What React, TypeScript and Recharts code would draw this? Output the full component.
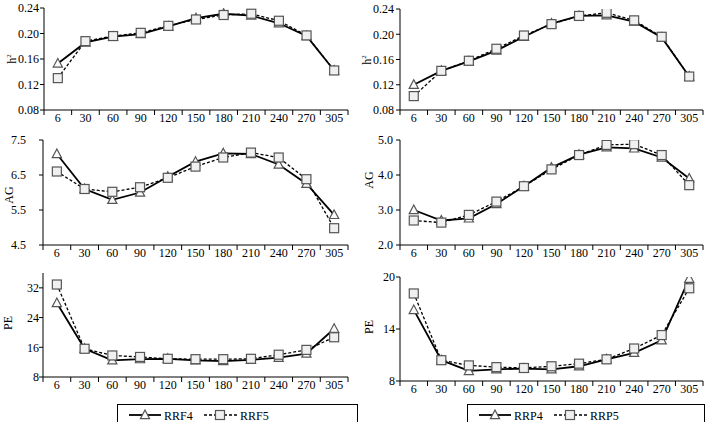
import React from "react";
import { LineChart, Line, XAxis, YAxis } from "recharts";

const FONT = '"Liberation Serif", "Times New Roman", serif';

// days in milk (categories)
const days = ["6", "30", "60", "90", "120", "150", "180", "210", "240", "270", "305"];

// heritability
const h2RRF4 = [0.153, 0.186, 0.195, 0.199, 0.211, 0.224, 0.231, 0.228, 0.216, 0.196, 0.142];
const h2RRF5 = [0.13, 0.188, 0.196, 0.201, 0.212, 0.222, 0.229, 0.231, 0.22, 0.197, 0.142];
const h2RRP4 = [0.12, 0.142, 0.157, 0.174, 0.196, 0.217, 0.229, 0.23, 0.22, 0.195, 0.133];
const h2RRP5 = [0.102, 0.142, 0.158, 0.177, 0.198, 0.216, 0.229, 0.234, 0.222, 0.196, 0.133];

// additive genetic variance
const agRRF4 = [7.1, 6.1, 5.79, 6.0, 6.45, 6.88, 7.12, 7.1, 6.8, 6.25, 5.36];
const agRRF5 = [6.6, 6.1, 6.02, 6.15, 6.42, 6.74, 7.0, 7.14, 7.0, 6.38, 4.98];
const agRRP4 = [3.0, 2.7, 2.76, 3.17, 3.68, 4.21, 4.58, 4.79, 4.76, 4.5, 3.9];
const agRRP5 = [2.7, 2.64, 2.86, 3.24, 3.68, 4.16, 4.57, 4.86, 4.88, 4.57, 3.71];

// permanent environment variance
const peRRF4 = [27.9, 15.6, 12.5, 12.8, 12.9, 12.5, 12.3, 12.6, 13.2, 14.3, 21.0];
const peRRF5 = [32.9, 15.6, 13.8, 13.4, 12.9, 12.8, 12.8, 12.9, 14.0, 15.3, 18.7];
const peRRP4 = [16.2, 10.4, 9.16, 9.35, 9.43, 9.35, 9.7, 10.5, 11.25, 12.7, 19.8];
const peRRP5 = [18.1, 10.4, 9.8, 9.6, 9.5, 9.7, 10.0, 10.5, 11.75, 13.3, 18.7];

const h2Ticks = [0.08, 0.12, 0.16, 0.2, 0.24];
const agFTicks = [4.5, 5.5, 6.5, 7.5];
const agPTicks = [2.0, 3.0, 4.0, 5.0];
const peFTicks = [8, 16, 24, 32];
const pePTicks = [8, 14, 20];

// integer = label position, half = boundary tick
const xTicks: number[] = [];
for (let k = -0.5; k <= days.length - 0.5; k += 0.5) xTicks.push(k);

const rows = (a: number[], b: number[]) => days.map((d, i) => ({ i, day: d, a: a[i], b: b[i] }));

const DayTick = (p: any) => {
  const v = p.payload.value;
  if (Number.isInteger(v)) {
    return (
      <text x={p.x} y={p.y + 3} dy="0.71em" textAnchor="middle" fontSize={12} fontFamily={FONT} fill="#000">
        {days[v]}
      </text>
    );
  }
  return <line x1={p.x} x2={p.x} y1={p.y} y2={p.y + 5} stroke="#000" />;
};

const TriDot = (p: any) => {
  const { cx, cy } = p;
  if (cx == null || cy == null) return null;
  return (
    <polygon
      points={`${cx},${cy - 5} ${cx - 4.6},${cy + 3.6} ${cx + 4.6},${cy + 3.6}`}
      fill="#fafafa"
      stroke="#555"
      strokeWidth={1.2}
    />
  );
};

const SqDot = (p: any) => {
  const { cx, cy } = p;
  if (cx == null || cy == null) return null;
  return <rect x={cx - 4.5} y={cy - 4.5} width={9} height={9} fill="#f0f0f0" stroke="#555" strokeWidth={1.2} />;
};

interface PanelProps {
  x: number;
  y: number;
  w: number;
  h: number;
  data: { i: number; a: number; b: number }[];
  domain: [number, number];
  ticks: number[];
  fmt: (v: number) => string;
  gap: number;
}

function Panel({ x, y, w, h, data, domain, ticks, fmt, gap }: PanelProps) {
  const yw = 40;
  const mt = 6;
  const mb = 20;
  const mr = 6;
  return (
    <div style={{ position: "absolute", left: x - yw, top: y - mt }}>
      <LineChart width={yw + w + mr} height={mt + h + mb} data={data} margin={{ top: mt, right: mr, bottom: 0, left: 0 }}>
        <XAxis
          dataKey="i"
          type="number"
          domain={[-0.5, days.length - 0.5]}
          ticks={xTicks}
          interval={0}
          tick={<DayTick />}
          tickLine={false}
          tickSize={0}
          tickMargin={0}
          height={mb}
          axisLine={{ stroke: "#000" }}
          allowDataOverflow
        />
        <YAxis
          width={yw}
          domain={domain}
          ticks={ticks}
          interval={0}
          tickFormatter={fmt}
          tickSize={4}
          tickMargin={gap}
          tickLine={{ stroke: "#000" }}
          axisLine={{ stroke: "#000" }}
          tick={{ fill: "#000", fontSize: 12, fontFamily: FONT }}
          allowDataOverflow
        />
        <Line dataKey="a" stroke="#000" strokeWidth={1.8} dot={<TriDot />} isAnimationActive={false} />
        <Line dataKey="b" stroke="#000" strokeWidth={1.3} strokeDasharray="3 2" dot={<SqDot />} isAnimationActive={false} />
      </LineChart>
    </div>
  );
}

function AxisTitle({ x, y, children }: { x: number; y: number; children: React.ReactNode }) {
  return (
    <div
      style={{
        position: "absolute",
        left: x - 20,
        top: y - 8,
        width: 40,
        height: 16,
        lineHeight: "16px",
        textAlign: "center",
        fontFamily: FONT,
        fontSize: 12,
        transform: "rotate(-90deg)",
      }}
    >
      {children}
    </div>
  );
}

function LegendBox({ left, width, names }: { left: number; width: number; names: string[] }) {
  return (
    <div
      style={{
        position: "absolute",
        left,
        top: 404,
        width,
        height: 24,
        border: "1.5px solid #000",
        boxSizing: "border-box",
        background: "#fff",
      }}
    >
      <svg width={width - 3} height={20} style={{ display: "block" }}>
        <line x1={11} x2={43} y1={10} y2={10} stroke="#000" strokeWidth={1.8} />
        <TriDot cx={27} cy={10} />
        <text x={46} y={14.5} fontSize={12} fontFamily={FONT} fill="#000">
          {names[0]}
        </text>
        <line x1={86} x2={120} y1={10} y2={10} stroke="#000" strokeWidth={1.3} strokeDasharray="3 2" />
        <SqDot cx={102} cy={10} />
        <text x={122} y={14.5} fontSize={12} fontFamily={FONT} fill="#000">
          {names[1]}
        </text>
      </svg>
    </div>
  );
}

const f2 = (v: number) => v.toFixed(2);
const f1 = (v: number) => v.toFixed(1);
const f0 = (v: number) => String(v);

export default function App() {
  return (
    <div style={{ position: "absolute", left: 0, top: 0, width: 713, height: 422, overflow: "hidden", background: "#fff" }}>
      <Panel x={44} y={8} w={304} h={102} data={rows(h2RRF4, h2RRF5)} domain={[0.08, 0.24]} ticks={h2Ticks} fmt={f2} gap={1} />
      <Panel x={400} y={9} w={303} h={101} data={rows(h2RRP4, h2RRP5)} domain={[0.08, 0.24]} ticks={h2Ticks} fmt={f2} gap={2} />
      <Panel x={43} y={140} w={305} h={105} data={rows(agRRF4, agRRF5)} domain={[4.5, 7.5]} ticks={agFTicks} fmt={f1} gap={13} />
      <Panel x={400} y={140} w={303} h={105} data={rows(agRRP4, agRRP5)} domain={[2, 5]} ticks={agPTicks} fmt={f1} gap={3} />
      <Panel x={43} y={273} w={305} h={104} data={rows(peRRF4, peRRF5)} domain={[8, 36]} ticks={peFTicks} fmt={f0} gap={0} />
      <Panel x={400} y={277} w={303} h={104} data={rows(peRRP4, peRRP5)} domain={[8, 20]} ticks={pePTicks} fmt={f0} gap={1} />

      <AxisTitle x={9} y={59}>
        h<sup style={{ fontSize: 7 }}>2</sup>
      </AxisTitle>
      <AxisTitle x={364} y={60}>
        h<sup style={{ fontSize: 7 }}>2</sup>
      </AxisTitle>
      <AxisTitle x={9} y={195}>AG</AxisTitle>
      <AxisTitle x={369} y={180}>AG</AxisTitle>
      <AxisTitle x={8} y={323}>PE</AxisTitle>
      <AxisTitle x={369} y={327}>PE</AxisTitle>

      <LegendBox left={117} width={241} names={["RRF4", "RRF5"]} />
      <LegendBox left={467} width={238} names={["RRP4", "RRP5"]} />
    </div>
  );
}
